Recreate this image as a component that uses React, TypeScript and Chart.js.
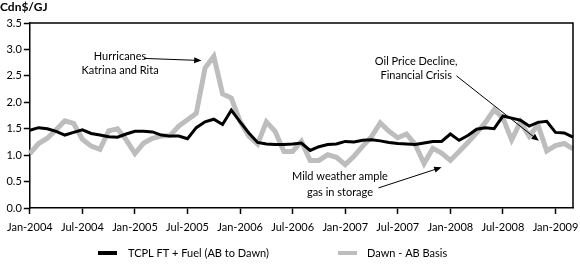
import React, { useEffect, useRef } from "react";
import { Chart, registerables } from "chart.js";

Chart.register(...registerables);

const months = [
  "Jan-2004", "Feb-2004", "Mar-2004", "Apr-2004", "May-2004", "Jun-2004", "Jul-2004", "Aug-2004", "Sep-2004", "Oct-2004", "Nov-2004", "Dec-2004",
  "Jan-2005", "Feb-2005", "Mar-2005", "Apr-2005", "May-2005", "Jun-2005", "Jul-2005", "Aug-2005", "Sep-2005", "Oct-2005", "Nov-2005", "Dec-2005",
  "Jan-2006", "Feb-2006", "Mar-2006", "Apr-2006", "May-2006", "Jun-2006", "Jul-2006", "Aug-2006", "Sep-2006", "Oct-2006", "Nov-2006", "Dec-2006",
  "Jan-2007", "Feb-2007", "Mar-2007", "Apr-2007", "May-2007", "Jun-2007", "Jul-2007", "Aug-2007", "Sep-2007", "Oct-2007", "Nov-2007", "Dec-2007",
  "Jan-2008", "Feb-2008", "Mar-2008", "Apr-2008", "May-2008", "Jun-2008", "Jul-2008", "Aug-2008", "Sep-2008", "Oct-2008", "Nov-2008", "Dec-2008",
  "Jan-2009", "Feb-2009", "Mar-2009",
];

const tcplFtFuel = [
  1.47, 1.52, 1.50, 1.45, 1.38, 1.43, 1.48, 1.41, 1.38, 1.35, 1.34, 1.40,
  1.45, 1.45, 1.44, 1.38, 1.36, 1.36, 1.31, 1.52, 1.63, 1.68, 1.58, 1.85,
  1.63, 1.42, 1.24, 1.21, 1.20, 1.20, 1.21, 1.23, 1.09, 1.16, 1.20, 1.21,
  1.26, 1.25, 1.28, 1.29, 1.27, 1.24, 1.22, 1.21, 1.20, 1.23, 1.26, 1.26,
  1.40, 1.28, 1.37, 1.49, 1.52, 1.50, 1.74, 1.70, 1.66, 1.55, 1.62, 1.64,
  1.43, 1.42, 1.34,
];

const dawnAbBasis = [
  1.03, 1.22, 1.32, 1.48, 1.65, 1.60, 1.30, 1.17, 1.11, 1.46, 1.50, 1.29,
  1.03, 1.23, 1.32, 1.36, 1.37, 1.55, 1.67, 1.79, 2.65, 2.87, 2.16, 2.08,
  1.64, 1.36, 1.21, 1.63, 1.45, 1.07, 1.07, 1.26, 0.90, 0.90, 1.01, 0.96,
  0.82, 0.98, 1.17, 1.35, 1.61, 1.45, 1.33, 1.40, 1.20, 0.84, 1.13, 1.04,
  0.90, 1.07, 1.24, 1.42, 1.62, 1.86, 1.70, 1.29, 1.63, 1.36, 1.57, 1.08,
  1.18, 1.22, 1.12,
];

const seriesNames = ["TCPL FT + Fuel (AB to Dawn)", "Dawn - AB Basis"];
const seriesColors = ["#000000", "#bdbdbd"];
const yAxisTitle = "Cdn$/GJ";

const FONT = "Lato, 'Open Sans', sans-serif";

function arrow(ctx: CanvasRenderingContext2D, x1: number, y1: number, x2: number, y2: number, head: number) {
  const ang = Math.atan2(y2 - y1, x2 - x1);
  ctx.beginPath();
  ctx.moveTo(x1, y1);
  ctx.lineTo(x2 - Math.cos(ang) * head * 0.8, y2 - Math.sin(ang) * head * 0.8);
  ctx.stroke();
  ctx.beginPath();
  ctx.moveTo(x2, y2);
  ctx.lineTo(x2 - head * Math.cos(ang - 0.4), y2 - head * Math.sin(ang - 0.4));
  ctx.lineTo(x2 - head * Math.cos(ang + 0.4), y2 - head * Math.sin(ang + 0.4));
  ctx.closePath();
  ctx.fill();
}

const decorPlugin = {
  id: "decor",
  afterDraw(chart: any) {
    const { ctx, chartArea, scales } = chart;
    const xs = scales.x;
    const ys = scales.y;
    const px = (i: number) => xs.getPixelForValue(i);
    const py = (v: number) => ys.getPixelForValue(v);
    ctx.save();
    // frame top & right
    ctx.strokeStyle = "#000";
    ctx.lineWidth = 1.5;
    ctx.beginPath();
    ctx.moveTo(chartArea.left, chartArea.top);
    ctx.lineTo(chartArea.right, chartArea.top);
    ctx.lineTo(chartArea.right, chartArea.bottom);
    ctx.stroke();

    // y title
    ctx.fillStyle = "#000";
    ctx.font = `bold 12px ${FONT}`;
    ctx.textAlign = "left";
    ctx.textBaseline = "middle";
    ctx.fillText(yAxisTitle, 0, 7);

    // annotations
    ctx.font = `11px ${FONT}`;
    ctx.textAlign = "center";
    ctx.fillText("Hurricanes", px(10.3), py(2.87));
    ctx.fillText("Katrina and Rita", px(10.3), py(2.6));
    ctx.fillText("Oil Price Decline,", px(44.1), py(2.78));
    ctx.fillText("Financial Crisis", px(44.1), py(2.51));
    ctx.fillText("Mild weather ample", px(35.4), py(0.59));
    ctx.fillText("gas in storage", px(35.4), py(0.3));

    ctx.lineWidth = 1;
    ctx.strokeStyle = "#000";
    arrow(ctx, px(13.05), py(2.83), px(19.6), py(2.79), 8);
    arrow(ctx, px(48.7), py(2.5), px(58.1), py(1.27), 8);
    arrow(ctx, px(39.8), py(0.38), px(47.0), py(0.77), 8);

    // legend
    const ly = 253;
    ctx.lineWidth = 4;
    ctx.strokeStyle = seriesColors[0];
    ctx.beginPath();
    ctx.moveTo(98, ly);
    ctx.lineTo(117, ly);
    ctx.stroke();
    ctx.strokeStyle = seriesColors[1];
    ctx.beginPath();
    ctx.moveTo(338, ly);
    ctx.lineTo(357, ly);
    ctx.stroke();
    ctx.textAlign = "left";
    ctx.fillStyle = "#000";
    ctx.fillText(seriesNames[0], 128, ly);
    ctx.fillText(seriesNames[1], 367, ly);
    ctx.restore();
  },
};

export default function App() {
  const ref = useRef<HTMLCanvasElement>(null);
  useEffect(() => {
    document.body.style.margin = "0";
    const chart = new Chart(ref.current as HTMLCanvasElement, {
      type: "line",
      data: {
        labels: months,
        datasets: [
          {
            label: seriesNames[0],
            data: tcplFtFuel,
            borderColor: seriesColors[0],
            backgroundColor: seriesColors[0],
            borderWidth: 3,
            pointRadius: 0,
            tension: 0,
            borderJoinStyle: "miter",
          },
          {
            label: seriesNames[1],
            data: dawnAbBasis,
            borderColor: seriesColors[1],
            backgroundColor: seriesColors[1],
            borderWidth: 5,
            pointRadius: 0,
            tension: 0,
            borderJoinStyle: "miter",
          },
        ],
      },
      options: {
        responsive: false,
        animation: false,
        events: [],
        layout: { padding: { top: 23, right: 6, left: 0, bottom: 0 } },
        plugins: { legend: { display: false }, tooltip: { enabled: false } },
        scales: {
          x: {
            type: "category",
            offset: false,
            afterFit: (s: any) => { s.height = 59; },
            border: { display: true, color: "#000", width: 1.5 },
            grid: {
              drawOnChartArea: false,
              drawTicks: true,
              tickLength: 6,
              tickWidth: 1.5,
              tickColor: (c: any) => (c.index % 6 === 0 ? "#000" : "rgba(0,0,0,0)"),
            },
            ticks: {
              autoSkip: false,
              maxRotation: 0,
              padding: 7,
              color: "#000",
              font: { family: FONT, size: 11 },
              callback: (_v: any, i: number) => (i % 6 === 0 ? months[i] : ""),
            },
          },
          y: {
            min: 0,
            max: 3.5,
            afterFit: (s: any) => { s.width = 24; },
            border: { display: true, color: "#000", width: 1.5 },
            grid: {
              drawOnChartArea: false,
              drawTicks: true,
              tickLength: 6,
              tickWidth: 1.5,
              color: "#000",
            },
            ticks: {
              stepSize: 0.5,
              padding: 2,
              color: "#000",
              font: { family: FONT, size: 11 },
              callback: (v: any) => Number(v).toFixed(1),
            },
          },
        },
      },
      plugins: [decorPlugin],
    });
    return () => chart.destroy();
  }, []);
  return (
    <div style={{ width: 580, height: 267 }}>
      <canvas ref={ref} width={580} height={267} />
    </div>
  );
}
